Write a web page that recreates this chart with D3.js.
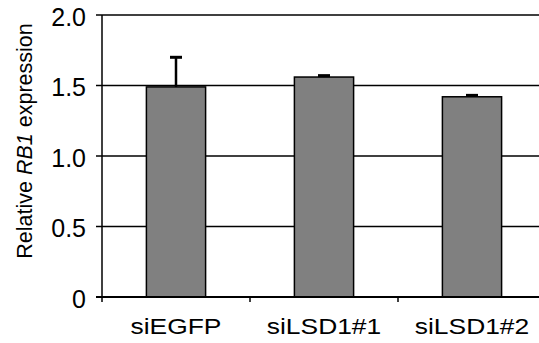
<!DOCTYPE html>
<html><head><meta charset="utf-8">
<script src="https://cdn.jsdelivr.net/npm/d3@7"></script>
<style>body{margin:0;background:#fff}svg{display:block}text{font-family:"Liberation Sans",Arial,sans-serif;fill:#000}</style>
</head><body>
<script>
const categories = ["siEGFP", "siLSD1#1", "siLSD1#2"];
const values = [1.49, 1.56, 1.42];
const errors = [0.21, 0.01, 0.01];
const yTicks = [0, 0.5, 1.0, 1.5, 2.0];
const yTickLabels = ["0", "0.5", "1.0", "1.5", "2.0"];

const W = 539, H = 343;
const svg = d3.select("body").append("svg").attr("width", W).attr("height", H);
const x0 = 102, x1 = 546, yTop = 15, yBot = 297;
const x = d3.scaleBand().domain(categories).range([x0, x1]).paddingInner(0.6).paddingOuter(0.3);
const y = d3.scaleLinear().domain([0, 2]).range([yBot, yTop]);

// gridlines
svg.append("g").selectAll("line").data(yTicks.filter(d => d > 0)).join("line")
  .attr("x1", x0).attr("x2", W + 10).attr("y1", d => y(d)).attr("y2", d => y(d))
  .attr("stroke", "#000").attr("stroke-width", 1.5);
// y ticks
svg.append("g").selectAll("line").data(yTicks).join("line")
  .attr("x1", x0 - 6).attr("x2", x0).attr("y1", d => y(d)).attr("y2", d => y(d))
  .attr("stroke", "#000").attr("stroke-width", 1.5);
svg.append("g").selectAll("text").data(yTicks).join("text")
  .attr("x", 86).attr("y", d => y(d) + 10.5)
  .attr("text-anchor", "end").attr("font-size", 25)
  .text((d, i) => yTickLabels[i]);

// bars
svg.append("g").selectAll("rect").data(values).join("rect")
  .attr("x", (d, i) => x(categories[i])).attr("width", x.bandwidth())
  .attr("y", d => y(d)).attr("height", d => y(0) - y(d))
  .attr("fill", "#808080").attr("stroke", "#000").attr("stroke-width", 1.5);

// error bars
const eg = svg.append("g");
values.forEach((v, i) => {
  const cx = x(categories[i]) + x.bandwidth() / 2;
  eg.append("line").attr("x1", cx).attr("x2", cx).attr("y1", y(v)).attr("y2", y(v + errors[i]))
    .attr("stroke", "#000").attr("stroke-width", 2.5);
  eg.append("line").attr("x1", cx - 6).attr("x2", cx + 6).attr("y1", y(v + errors[i])).attr("y2", y(v + errors[i]))
    .attr("stroke", "#000").attr("stroke-width", 3);
});

// axes lines
svg.append("line").attr("x1", x0 - 6).attr("x2", W + 10).attr("y1", yBot).attr("y2", yBot)
  .attr("stroke", "#000").attr("stroke-width", 2);
svg.append("line").attr("x1", x0).attr("x2", x0).attr("y1", yTop).attr("y2", yBot + 5)
  .attr("stroke", "#000").attr("stroke-width", 1.5);
// category boundary ticks
const step = x.step();
svg.append("g").selectAll("line").data(categories.slice(1)).join("line")
  .attr("x1", d => x(d) + x.bandwidth() / 2 - step / 2).attr("x2", d => x(d) + x.bandwidth() / 2 - step / 2)
  .attr("y1", yBot).attr("y2", yBot + 5).attr("stroke", "#000").attr("stroke-width", 1.5);

// x labels
svg.append("g").selectAll("text").data(categories).join("text")
  .attr("transform", d => `translate(${x(d) + x.bandwidth() / 2},333.5) scale(1.2,1)`)
  .attr("text-anchor", "middle").attr("font-size", 22).text(d => d);

// y title
const t = svg.append("text").attr("transform", "translate(32,141) rotate(-90)")
  .attr("text-anchor", "middle").attr("font-size", 21.5);
t.append("tspan").text("Relative ");
t.append("tspan").attr("font-style", "italic").text("RB1");
t.append("tspan").text(" expression");
</script>
</body></html>
